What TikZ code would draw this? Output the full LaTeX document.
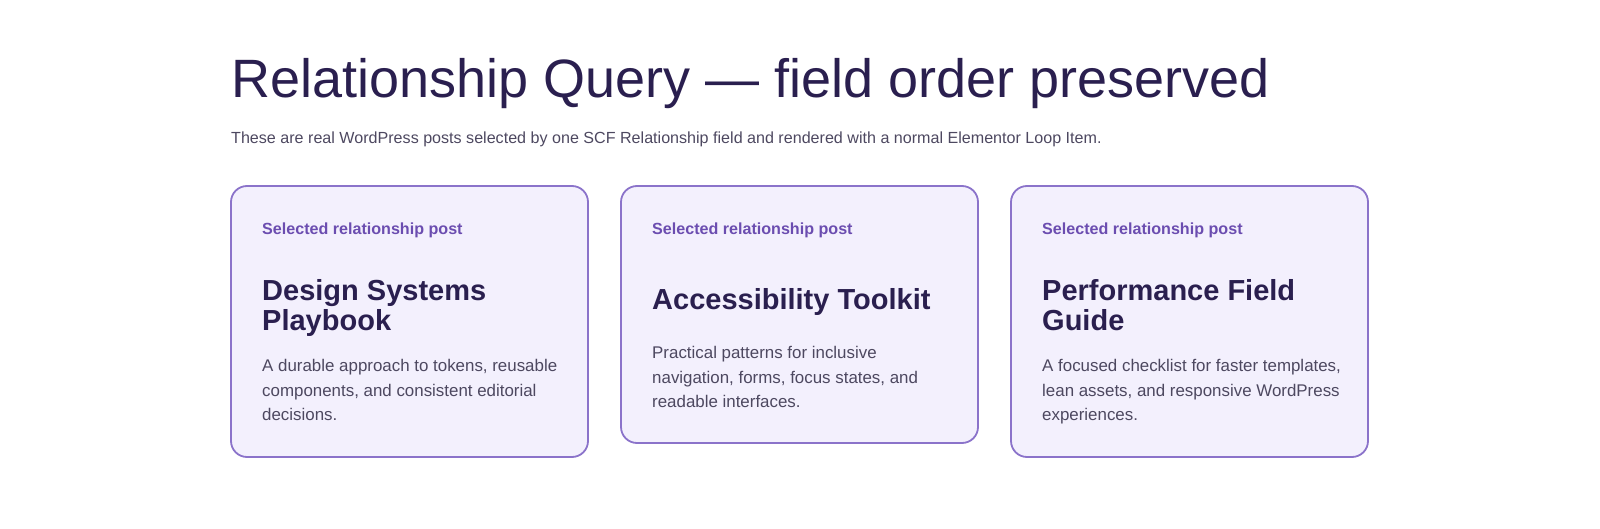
\documentclass[tikz,border=0pt]{standalone}
\usepackage{fontspec}
\setmainfont{Liberation Sans}
\definecolor{ink}{HTML}{2A1F4F}
\definecolor{kick}{HTML}{6B4DB0}
\definecolor{body}{HTML}{4D4860}
\definecolor{cardline}{HTML}{8B73CA}
\definecolor{cardfill}{HTML}{F3F0FD}
\begin{document}
\begin{tikzpicture}[x=1pt,y=-1pt,
  card/.style={draw=cardline,fill=cardfill,line width=1.8pt,rounded corners=16pt},
  kicker/.style={anchor=base west,inner sep=0pt,text=kick,font=\fontsize{16.1}{18}\selectfont\bfseries},
  heading/.style={anchor=base west,inner sep=0pt,text=ink,font=\fontsize{29}{30}\selectfont\bfseries},
  blurb/.style={anchor=base west,inner sep=0pt,text=body,font=\fontsize{16.9}{18}\selectfont}]
\useasboundingbox (0,0) rectangle (1600,529);

\node[anchor=base west,inner sep=0pt,text=ink,font=\fontsize{54}{60}\selectfont] (title) at (231,98) {Relationship Query — field order preserved};
\node[anchor=base west,inner sep=0pt,text=body,font=\fontsize{16.1}{18}\selectfont] (intro) at (231,144) {These are real WordPress posts selected by one SCF Relationship field and rendered with a normal Elementor Loop Item.};

% first card
\draw[card] (231,186) rectangle (588,457);
\node[kicker] (kickA) at (262,235) {Selected relationship post};
\node[heading] (headA1) at (262,300) {Design Systems};
\node[heading] (headA2) at (262,330) {Playbook};
\node[blurb] (textA1) at (262,371) {A durable approach to tokens, reusable};
\node[blurb] (textA2) at (262,396) {components, and consistent editorial};
\node[blurb] (textA3) at (262,420) {decisions.};

% second card
\draw[card] (621,186) rectangle (978,443);
\node[kicker] (kickB) at (652,235) {Selected relationship post};
\node[heading] (headB1) at (652,309) {Accessibility Toolkit};
\node[blurb] (textB1) at (652,358) {Practical patterns for inclusive};
\node[blurb] (textB2) at (652,383) {navigation, forms, focus states, and};
\node[blurb] (textB3) at (652,407) {readable interfaces.};

% third card
\draw[card] (1011,186) rectangle (1368,457);
\node[kicker] (kickC) at (1042,235) {Selected relationship post};
\node[heading] (headC1) at (1042,300) {Performance Field};
\node[heading] (headC2) at (1042,330) {Guide};
\node[blurb] (textC1) at (1042,371) {A focused checklist for faster templates,};
\node[blurb] (textC2) at (1042,396) {lean assets, and responsive WordPress};
\node[blurb] (textC3) at (1042,420) {experiences.};
\end{tikzpicture}
\end{document}
